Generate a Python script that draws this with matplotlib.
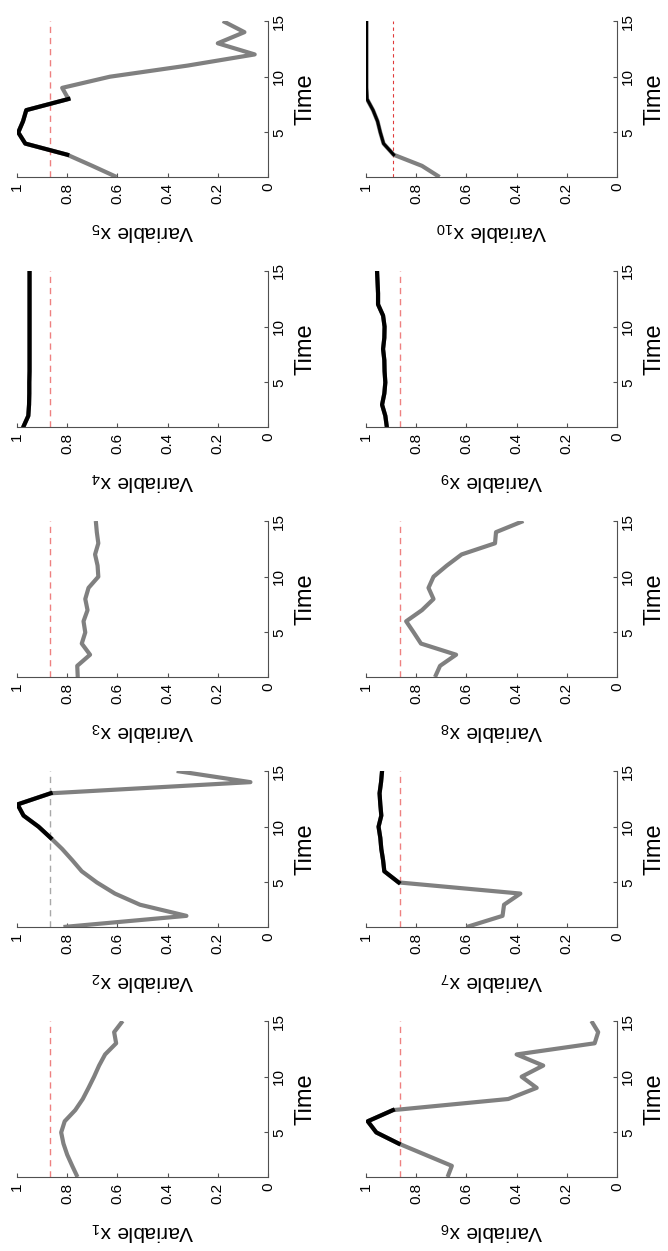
import matplotlib
matplotlib.use('Agg')
import matplotlib.pyplot as plt

plt.rcParams['font.family'] = ['Liberation Sans', 'DejaVu Sans']
plt.rcParams['mathtext.default'] = 'regular'

time = list(range(1, 16))

x1 = [0.759, 0.78, 0.80, 0.815, 0.824, 0.81, 0.768, 0.738, 0.715, 0.693, 0.673, 0.649, 0.605, 0.613, 0.579]
x2 = [0.815, 0.325, 0.51, 0.61, 0.682, 0.742, 0.78, 0.82, 0.866, 0.914, 0.974, 0.998, 0.866, 0.07, 0.364]
x3 = [0.758, 0.76, 0.709, 0.742, 0.728, 0.735, 0.719, 0.728, 0.715, 0.676, 0.679, 0.689, 0.676, 0.682, 0.686]
x4 = [0.975, 0.955, 0.952, 0.951, 0.951, 0.95, 0.95, 0.95, 0.95, 0.95, 0.95, 0.95, 0.95, 0.95, 0.95]
x5 = [0.603, 0.70, 0.80, 0.967, 0.995, 0.976, 0.963, 0.795, 0.82, 0.63, 0.32, 0.053, 0.20, 0.094, 0.18]
x6 = [0.675, 0.658, 0.764, 0.87, 0.959, 0.993, 0.893, 0.433, 0.32, 0.38, 0.294, 0.40, 0.089, 0.075, 0.102]
x7 = [0.599, 0.456, 0.45, 0.385, 0.87, 0.927, 0.932, 0.939, 0.943, 0.95, 0.939, 0.943, 0.946, 0.94, 0.936]
x8 = [0.725, 0.705, 0.641, 0.781, 0.81, 0.84, 0.777, 0.731, 0.751, 0.731, 0.678, 0.619, 0.486, 0.482, 0.373]
x9 = [0.917, 0.923, 0.936, 0.927, 0.923, 0.926, 0.927, 0.932, 0.927, 0.926, 0.932, 0.952, 0.952, 0.954, 0.956]
x10 = [0.707, 0.777, 0.89, 0.93, 0.943, 0.954, 0.972, 0.996, 0.998, 0.998, 0.998, 0.998, 0.998, 0.998, 0.998]

series = [x1, x2, x3, x4, x5, x6, x7, x8, x9, x10]
thresholds = [0.868, 0.868, 0.868, 0.868, 0.868, 0.865, 0.865, 0.865, 0.865, 0.892]
# time span drawn in black (first, last) or None
black_span = [None, (9, 13), None, (1, 15), (3, 8), (4, 7), (5, 15), None, (1, 15), (3, 15)]

fig = plt.figure(figsize=(6.68, 12.51), dpi=100)
W, H = 668, 1251

for i, vals in enumerate(series):
    col = i // 5
    row = i % 5
    left = (17 if col == 0 else 366) / W
    bottom = 1 - (1177 - 250 * row) / H
    ax = fig.add_axes([left, bottom, 251 / W, 156 / H])

    # threshold line
    if i == 1:
        ax.axvline(thresholds[i], color='#a8a8a8', lw=1.0, dashes=(4.5, 3.5))
    elif i == 9:
        ax.axvline(thresholds[i], color='#e03a3a', lw=0.8, dashes=(3, 3))
    else:
        ax.axvline(thresholds[i], color='#ee8080', lw=1.0, dashes=(4.5, 3.5))

    ax.plot(vals, time, color='#808080', lw=3, solid_capstyle='butt')
    if black_span[i] is not None:
        a, b = black_span[i]
        lw = 2.2 if i == 9 else 3
        ax.plot(vals[a - 1:b], time[a - 1:b], color='black', lw=lw)

    ax.set_xlim(1, 0)
    ax.set_ylim(1, 15)
    ax.set_xticks([0, 0.2, 0.4, 0.6, 0.8, 1])
    ax.set_xticklabels(['0', '0.2', '0.4', '0.6', '0.8', '1'])
    ax.set_yticks([5, 10, 15])
    ax.yaxis.tick_right()
    ax.yaxis.set_label_position('right')
    for s in ['left', 'top']:
        ax.spines[s].set_visible(False)
    for s in ['right', 'bottom']:
        ax.spines[s].set_color('#505050')
        ax.spines[s].set_linewidth(0.8)
    ax.tick_params(direction='in', length=3, width=0.8, color='#505050', labelsize=11)
    ax.tick_params(axis='x', labelrotation=90, pad=4)
    ax.tick_params(axis='y', labelrotation=90, pad=3)
    for lab in ax.get_yticklabels():
        lab.set_va('center')
    ax.set_xlabel('Variable x$_{%d}$' % (i + 1), rotation=180, fontsize=15, labelpad=12)
    ax.set_ylabel('Time', rotation=90, fontsize=17, labelpad=6)

fig.savefig('out.png', dpi=100)
